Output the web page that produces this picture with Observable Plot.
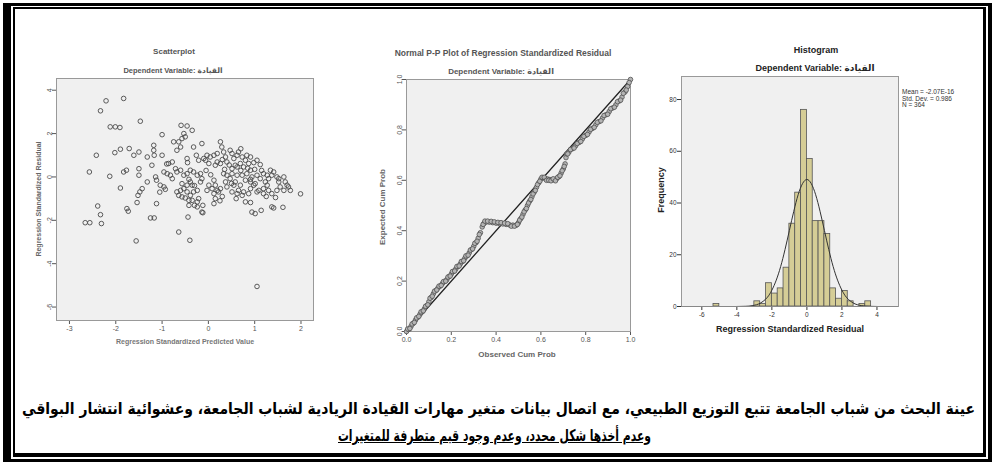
<!DOCTYPE html>
<html><head><meta charset="utf-8">
<script src="https://cdn.jsdelivr.net/npm/d3@7"></script>
<script src="https://cdn.jsdelivr.net/npm/@observablehq/plot@0.6"></script>
<style>
html,body{margin:0;padding:0;background:#fff;}
#root{position:relative;width:992px;height:462px;overflow:hidden;font-family:"Liberation Sans","DejaVu Sans",Arial,sans-serif;}
.abs{position:absolute;}
.lbl{position:absolute;white-space:nowrap;line-height:1;}
</style></head>
<body><div id="root"></div>
<script>
// ---------- DATA ----------
const scatterXTicks = [-3, -2, -1, 0, 1, 2];
const scatterYTicks = [4, 2, 0, -2, -4, -6];
const scatterPoints = [
[-2.21,3.51],[-1.83,3.62],[-2.33,3.05],[-2.12,2.31],[-2.01,2.31],[-1.91,2.28],[-1.47,2.57],
[-2.42,1.00],[-2.57,0.23],[-2.13,0.03],[-2.02,1.12],[-1.90,1.28],[-1.71,1.31],[-1.61,1.00],[-1.50,1.15],
[-1.83,0.23],[-1.77,0.31],[-1.50,0.38],[-1.50,0.08],[-1.90,-0.51],[-2.39,-1.34],[-2.33,-1.74],
[-2.66,-2.11],[-2.56,-2.11],[-2.31,-2.15],[-1.76,-1.46],[-1.73,-1.58],[-1.54,-1.18],[-1.32,-0.23],
[-1.43,-0.54],[-1.48,-0.69],[-1.52,-0.85],[-1.25,-1.89],[-1.17,-1.89],[-1.12,-1.23],[-1.56,-2.95],
[-1.22,0.54],[-1.32,0.92],[-1.18,1.46],[-1.18,1.23],[-1.17,1.00],[-1.00,1.95],[-1.00,1.00],
[-1.14,0.00],[-1.12,-0.15],[-1.04,-0.38],[-0.96,-0.46],[-0.93,-0.57],[-0.96,0.23],[-0.89,0.15],
[-0.82,0.08],[-0.78,-0.08],[-0.86,0.62],[-0.75,1.62],[-0.78,0.69],[-0.64,1.62],[-0.59,2.38],
[-0.46,2.35],[-0.35,2.15],[-0.53,2.00],[-0.50,1.85],[-0.57,1.77],[-0.32,1.38],[-0.14,1.54],
[-0.46,0.85],[-0.45,0.66],[-0.26,1.00],[-0.21,0.77],[-0.60,1.38],[-0.68,1.23],[-0.71,0.38],
[-0.68,0.23],[-0.60,0.31],[-0.53,0.08],[-0.46,0.15],[-0.39,0.31],[-0.32,0.23],[-0.24,0.08],
[-0.17,0.15],[-0.14,-0.08],[-0.68,-0.69],[-0.60,-0.62],[-0.53,-0.54],[-0.46,-0.69],[-0.39,-0.85],
[-0.32,-0.69],[-0.24,-0.62],[-0.64,-0.85],[-0.57,-0.92],[-0.50,-0.97],[-0.42,-1.08],[-0.35,-1.08],
[-0.21,-1.00],[-0.42,-1.31],[-0.30,-1.31],[-0.24,-1.15],[-0.12,-1.31],[-0.12,-1.65],[-0.44,-1.85],
[-0.64,-2.54],[-0.40,-2.92],[-0.46,-0.38],[-0.39,-0.23],[-0.35,-0.38],[-0.17,-0.23],[-0.42,-0.11],
[-0.57,-0.31],[-0.03,1.00],[0.04,0.92],[0.12,1.00],[0.19,1.08],[0.26,1.62],[0.29,1.38],[0.33,1.15],
[0.37,0.92],[0.40,0.69],[0.26,0.62],[0.19,0.69],[0.15,0.54],[0.01,0.62],[-0.06,0.77],[-0.10,0.85],
[0.47,1.23],[0.51,1.08],[0.62,1.00],[0.65,1.15],[0.73,0.92],[0.83,1.00],[0.91,0.92],[0.80,0.77],
[0.69,0.62],[0.58,0.54],[0.51,0.38],[0.62,0.46],[0.76,0.46],[0.87,0.62],[0.98,0.66],[1.05,0.77],
[1.12,0.57],[0.91,0.31],[0.83,0.15],[0.73,0.08],[0.62,0.08],[0.51,0.15],[0.40,0.08],[0.33,0.15],
[0.47,-0.08],[0.58,-0.23],[0.69,-0.38],[0.80,-0.15],[0.91,-0.23],[1.01,-0.31],[0.55,-0.38],
[0.65,-0.62],[0.76,-0.69],[0.87,-0.77],[0.37,-0.23],[0.40,-0.46],[0.12,-0.15],[0.15,-0.38],
[0.08,-0.54],[0.19,-0.62],[0.12,-0.77],[0.15,-1.00],[0.12,-1.23],[-0.03,-0.62],[0.01,-0.38],
[0.26,-0.54],[0.22,-0.69],[0.91,-0.11],[0.94,0.00],[1.05,-0.69],[1.09,-0.62],[1.19,-0.54],
[1.27,-0.38],[1.30,-0.62],[1.37,-0.77],[1.48,-0.62],[1.55,-0.46],[1.63,-0.62],[1.73,-0.46],
[1.77,-0.62],[1.52,-0.23],[1.63,0.00],[1.34,0.31],[1.41,0.23],[1.37,0.08],[1.48,0.00],[1.52,-0.08],
[1.30,-0.08],[1.23,-0.23],[1.27,0.08],[1.66,-0.23],[1.70,-0.38],[1.99,-0.78],[0.80,-1.15],
[0.91,-1.18],[0.94,-1.62],[1.01,-1.69],[1.14,-1.54],[1.37,-1.38],[1.41,-1.43],[1.61,-1.40],
[1.19,-0.77],[0.98,-0.38],[0.91,-0.54],[1.05,0.08],[1.12,-0.08],[1.19,0.15],[0.73,-0.85],
[0.62,-0.77],[0.51,-0.69],[1.05,-5.05],[-0.14,-1.62],[-0.24,-1.38],
[0.30,0.80],[0.45,0.55],[0.70,0.30],[0.85,0.40],[1.00,0.35],[1.15,0.30],[0.50,-0.30],[0.30,-0.90],
[1.25,-0.90],[1.45,-0.95],[0.60,-1.00],[-0.30,-0.40],[-0.05,0.30],[0.05,0.10],[-0.90,0.60],
[-1.05,-0.70],[0.25,-1.10],[0.35,0.35],[0.55,0.85],[0.70,1.30]
];

const ppTicks = [0, 0.2, 0.4, 0.6, 0.8, 1.0];
const ppDiagonalObs = [0, 1];
const ppDiagonalExp = [0, 1];
const ppPoints = [
[0.000,0.000],[0.010,0.008],[0.020,0.020],[0.030,0.032],[0.040,0.045],[0.050,0.056],[0.060,0.068],
[0.070,0.078],[0.080,0.090],[0.090,0.102],[0.100,0.118],[0.110,0.135],[0.120,0.150],[0.130,0.162],
[0.140,0.172],[0.150,0.180],[0.160,0.190],[0.170,0.198],[0.180,0.206],[0.190,0.218],[0.200,0.228],
[0.210,0.238],[0.220,0.248],[0.230,0.258],[0.240,0.268],[0.250,0.278],[0.260,0.290],[0.270,0.300],
[0.280,0.312],[0.290,0.325],[0.300,0.338],[0.310,0.352],[0.320,0.370],[0.330,0.392],[0.338,0.415],
[0.345,0.428],[0.355,0.434],[0.370,0.434],[0.385,0.432],[0.400,0.430],[0.415,0.428],[0.430,0.427],
[0.445,0.425],[0.460,0.423],[0.475,0.422],[0.490,0.422],[0.500,0.432],[0.510,0.448],[0.520,0.465],
[0.530,0.482],[0.540,0.500],[0.550,0.518],[0.560,0.535],[0.570,0.553],[0.580,0.572],[0.590,0.590],
[0.600,0.605],[0.610,0.610],[0.620,0.607],[0.630,0.605],[0.640,0.603],[0.650,0.602],[0.660,0.602],
[0.670,0.606],[0.680,0.614],[0.690,0.628],[0.700,0.645],[0.708,0.665],[0.712,0.690],[0.715,0.705],
[0.725,0.712],[0.740,0.725],[0.755,0.737],[0.770,0.750],[0.785,0.764],[0.800,0.778],[0.815,0.792],
[0.830,0.806],[0.845,0.820],[0.860,0.833],[0.875,0.847],[0.890,0.860],[0.905,0.873],[0.920,0.887],
[0.935,0.900],[0.950,0.915],[0.962,0.930],[0.975,0.950],[0.987,0.972],[1.000,1.000],
[0.005,0.010],[0.015,0.012],[0.025,0.030],[0.035,0.036],[0.045,0.054],[0.055,0.060],[0.065,0.078],
[0.075,0.082],[0.085,0.100],[0.095,0.106],[0.105,0.132],[0.115,0.140],[0.125,0.160],[0.135,0.165],
[0.145,0.180],[0.155,0.183],[0.165,0.198],[0.175,0.200],[0.185,0.216],[0.195,0.220],[0.205,0.238],
[0.215,0.240],[0.225,0.258],[0.235,0.260],[0.245,0.278],[0.255,0.281],[0.265,0.300],[0.275,0.303],
[0.285,0.323],[0.295,0.328],[0.305,0.350],[0.315,0.358],[0.325,0.385],[0.342,0.425],[0.350,0.438],
[0.362,0.438],[0.378,0.437],[0.392,0.435],[0.408,0.433],[0.422,0.432],[0.438,0.430],[0.452,0.428],
[0.468,0.418],[0.482,0.418],[0.495,0.425],[0.505,0.442],[0.515,0.454],[0.525,0.475],[0.535,0.488],
[0.545,0.510],[0.555,0.524],[0.565,0.546],[0.575,0.560],[0.585,0.583],[0.595,0.596],[0.605,0.612],
[0.615,0.612],[0.625,0.600],[0.635,0.600],[0.645,0.598],[0.655,0.606],[0.665,0.598],[0.675,0.612],
[0.685,0.618],[0.695,0.638],[0.704,0.655],[0.720,0.705],[0.732,0.722],[0.748,0.728],[0.762,0.746],
[0.778,0.754],[0.792,0.774],[0.808,0.782],[0.822,0.802],[0.838,0.810],[0.852,0.830],[0.868,0.836],
[0.882,0.857],[0.898,0.862],[0.912,0.884],[0.928,0.890],[0.942,0.912],[0.956,0.918],[0.968,0.945],
[0.981,0.958],[0.994,0.988]
];

const histXTicks = [-6, -4, -2, 0, 2, 4];
const histYTicks = [0, 20, 40, 60, 80];
const binWidth = 0.3333;
const binStart = [-5.333,-5.0,-4.667,-4.333,-4.0,-3.667,-3.333,-3.0,-2.667,-2.333,-2.0,-1.667,-1.333,-1.0,
  -0.667,-0.333,0,0.333,0.667,1.0,1.333,1.667,2.0,2.333,2.667,3.0,3.333];
const binCount = [1,0,0,0,0,0,0,2,1,9,5,7,15,32,44,76,57,33,33,28,7,3,6,2,0,1,2];
const curveX = [-4,-3.5,-3.25,-3,-2.75,-2.5,-2.25,-2,-1.75,-1.5,-1.25,-1,-0.75,-0.5,-0.25,0,
  0.25,0.5,0.75,1,1.25,1.5,1.75,2,2.25,2.5,2.75,3,3.25,3.5,4];
const curveY = [0.01,0.09,0.21,0.48,1.0,2.0,3.6,6.3,10.2,15.4,22.0,29.4,36.8,43.2,47.5,49.1,
  47.5,43.2,36.8,29.4,22.0,15.4,10.2,6.3,3.6,2.0,1.0,0.48,0.21,0.09,0.01];
const histStats = ["Mean = -2.07E-16", "Std. Dev. = 0.986", "N = 364"];

const captionLine1 = "عينة البحث من شباب الجامعة تتبع التوزيع الطبيعي، مع اتصال بيانات متغير مهارات القيادة الريادية لشباب الجامعة، وعشوائية انتشار البواقي";
const captionLine2 = "وعدم أخذها شكل محدد، وعدم وجود قيم متطرفة للمتغيرات";
const depVar = "Dependent Variable: القيادة";

// ---------- LAYOUT HELPERS ----------
const root = document.getElementById("root");
const plainFmt = d => String(d);
function box(l, t, w, h, css) {
  const d = document.createElement("div");
  d.className = "abs";
  Object.assign(d.style, {left: l + "px", top: t + "px", width: w + "px", height: h + "px", boxSizing: "border-box"}, css);
  root.appendChild(d);
  return d;
}
function label(text, cx, cy, o = {}) {
  const d = document.createElement("div");
  d.className = "lbl";
  d.textContent = text;
  Object.assign(d.style, {
    left: cx + "px", top: cy + "px",
    fontSize: (o.size || 8) + "px",
    fontWeight: o.weight || "normal",
    color: o.color || "#000",
    transform: "translate(-50%,-50%)" + (o.rotate ? " rotate(" + o.rotate + "deg)" : "")
  });
  root.appendChild(d);
  return d;
}
function place(svg, l, t) {
  const w = document.createElement("div");
  w.className = "abs";
  w.style.left = l + "px"; w.style.top = t + "px";
  w.appendChild(svg);
  root.appendChild(w);
}

// borders
box(3, 3, 989, 459, {borderStyle: "solid", borderColor: "#000", borderWidth: "3px 4px 3px 8px"});
box(13, 7, 973, 450, {borderStyle: "solid", borderColor: "#000", borderWidth: "2px 3px 4px 2px"});

// ---------- SCATTERPLOT ----------
const scatter = Plot.plot({
  width: 300, height: 300,
  marginLeft: 36, marginRight: 7, marginTop: 38, marginBottom: 20,
  style: {fontSize: "7px", fontFamily: "Liberation Sans, Arial, sans-serif", color: "#555", background: "transparent"},
  x: {domain: [-3.28, 2.27], ticks: scatterXTicks, tickFormat: plainFmt, tickSize: 4, tickPadding: 2, label: null},
  y: {domain: [-6.62, 4.54], ticks: scatterYTicks, tickFormat: plainFmt, tickSize: 4, tickPadding: 1, tickRotate: -90, label: null},
  marks: [
    Plot.frame({fill: "#f0f0f0", stroke: "#999"}),
    Plot.dot(scatterPoints, {x: d => d[0], y: d => d[1], r: 2.3, stroke: "#4a4a4a", strokeWidth: 0.9, fill: "none"})
  ]
});
place(scatter, 20, 40);
label("Scatterplot", 174, 52, {size: 8, weight: "bold", color: "#555"});
label(depVar, 173, 71, {size: 7.5, weight: "bold", color: "#555"});
label("Regression Standardized Residual", 38, 199, {size: 7, weight: "bold", color: "#666", rotate: -90});
label("Regression Standardized Predicted Value", 185, 341, {size: 7, weight: "bold", color: "#777"});

// ---------- P-P PLOT ----------
const pp = Plot.plot({
  width: 290, height: 320,
  marginLeft: 46, marginRight: 20, marginTop: 39, marginBottom: 29,
  style: {fontSize: "7px", fontFamily: "Liberation Sans, Arial, sans-serif", color: "#555", background: "transparent"},
  x: {domain: [0, 1], ticks: ppTicks, tickFormat: d3.format(".1f"), tickSize: 4, tickPadding: 2, label: null},
  y: {domain: [0, 1], ticks: ppTicks, tickFormat: d3.format(".1f"), tickSize: 4, tickPadding: 1, tickRotate: -90, label: null},
  marks: [
    Plot.frame({fill: "#f0f0f0", stroke: "#999"}),
    Plot.line(ppDiagonalObs.map((v, i) => [v, ppDiagonalExp[i]]), {x: d => d[0], y: d => d[1], stroke: "#222", strokeWidth: 1.3}),
    Plot.dot(ppPoints, {x: d => d[0], y: d => d[1], r: 2.3, stroke: "#505050", strokeWidth: 0.8, fill: "#b4b4b4"})
  ]
});
place(pp, 360, 40);
label("Normal P-P Plot of Regression Standardized Residual", 503, 53, {size: 8.5, weight: "bold", color: "#555"});
label(depVar, 501, 72, {size: 8, weight: "bold", color: "#555"});
label("Observed Cum Prob", 517, 355, {size: 8, weight: "bold", color: "#666"});
label("Expected Cum Prob", 383, 207, {size: 8, weight: "bold", color: "#666", rotate: -90});

// ---------- HISTOGRAM ----------
const bins = binStart.map((s, i) => ({lo: s, hi: s + binWidth, count: binCount[i]})).filter(d => d.count > 0);
const curve = curveX.map((x, i) => ({x, y: curveY[i]}));
const hist = Plot.plot({
  width: 260, height: 290,
  marginLeft: 26, marginRight: 17, marginTop: 36, marginBottom: 24,
  style: {fontSize: "6.5px", fontFamily: "Liberation Sans, Arial, sans-serif", color: "#333", background: "transparent"},
  x: {domain: [-7.16, 5.23], ticks: histXTicks, tickFormat: plainFmt, tickSize: 4, tickPadding: 2, label: null},
  y: {domain: [0, 88.9], ticks: histYTicks, tickFormat: plainFmt, tickSize: 4, tickPadding: 1, label: null},
  marks: [
    Plot.frame({fill: "#f0f0f0", stroke: "#999"}),
    Plot.rect(bins, {x1: "lo", x2: "hi", y1: 0, y2: "count", fill: "#d5cd96", stroke: "#555", strokeWidth: 0.8}),
    Plot.line(curve, {x: "x", y: "y", curve: "natural", stroke: "#333", strokeWidth: 1}),
    Plot.ruleY([0], {stroke: "#888"})
  ]
});
place(hist, 655, 40);
label("Histogram", 816, 50, {size: 9, weight: "bold", color: "#222"});
label(depVar, 815, 68, {size: 9, weight: "bold", color: "#222"});
label("Regression Standardized Residual", 790, 329, {size: 9, weight: "bold", color: "#222"});
label("Frequency", 661, 190, {size: 9, weight: "bold", color: "#222", rotate: -90});
histStats.forEach((t, i) => {
  const d = document.createElement("div");
  d.className = "lbl";
  d.textContent = t;
  Object.assign(d.style, {left: "902px", top: (89 + i * 6.5) + "px", fontSize: "6.5px", color: "#333"});
  root.appendChild(d);
});

// ---------- CAPTION ----------
function fitLine(text, left, right, top, size, underline) {
  const wrap = document.createElement("div");
  wrap.className = "abs";
  Object.assign(wrap.style, {left: left + "px", top: top + "px", width: (right - left) + "px", whiteSpace: "nowrap"});
  const s = document.createElement("span");
  s.textContent = text;
  Object.assign(s.style, {display: "inline-block", direction: "rtl", fontFamily: "'DejaVu Sans', sans-serif",
    fontWeight: "bold", fontSize: size + "px", lineHeight: "1.2", color: "#000",
    textDecoration: underline ? "underline" : "none", transformOrigin: "0 0"});
  wrap.appendChild(s);
  root.appendChild(wrap);
  const w = s.getBoundingClientRect().width;
  s.style.transform = "scaleX(" + ((right - left) / w) + ")";
}
fitLine(captionLine1, 22, 975, 399, 16, false);
fitLine(captionLine2, 338, 651, 426, 16, true);
</script>
</body></html>
